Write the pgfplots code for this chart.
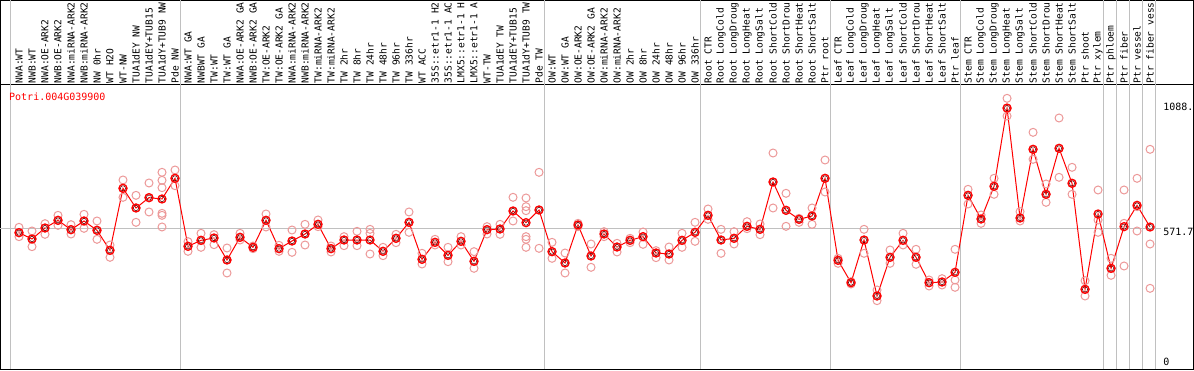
\documentclass[border=0pt]{standalone}
\usepackage{fontspec}
\usepackage{pgfplots}
\usepackage{pgfplotstable}
\pgfplotsset{compat=1.18}
\newfontfamily\mono{DejaVu Sans Mono}
\definecolor{gridgray}{RGB}{192,192,192}
\definecolor{repc}{RGB}{236,152,152}

\pgfplotstableread{
x y
0 552.0
1 524.7
2 572.0
3 605.0
4 564.9
5 602.2
6 562.0
7 476.0
8 742.7
9 658.1
10 702.5
11 696.8
12 785.7
13 493.2
14 519.0
15 529.0
16 434.4
17 531.9
18 488.9
19 605.0
20 483.2
21 516.1
22 546.2
23 587.8
24 483.2
25 520.4
26 520.4
27 520.4
28 471.7
29 527.6
30 596.4
31 437.3
32 510.4
33 454.5
34 514.7
35 428.7
36 564.9
37 567.7
38 645.2
39 595.0
40 649.5
41 470.3
42 421.5
43 585.0
44 451.6
45 546.2
46 490.3
47 519.0
48 534.8
49 464.5
50 460.2
51 519.0
52 553.4
53 626.5
54 520.4
55 527.6
56 579.2
57 566.3
58 769.9
59 648.0
60 609.3
61 623.7
62 785.7
63 433.0
64 336.9
65 520.4
66 279.6
67 445.9
68 519.0
69 445.9
70 336.9
71 339.8
72 381.4
73 712.5
74 610.8
75 751.3
76 1088.0
77 615.1
78 910.4
79 716.9
80 914.7
81 764.2
82 308.2
83 632.3
84 398.6
85 577.8
86 669.5
87 576.3
}\means

\pgfplotstableread{
x y
0 574.9
0 552.0
0 534.8
1 559.1
1 524.7
1 491.8
2 590.7
2 572.0
2 544.8
3 626.5
3 605.0
3 583.5
4 586.4
4 564.9
4 546.2
5 630.8
5 602.2
5 570.6
6 602.2
6 562.0
6 523.3
7 498.9
7 476.0
7 445.9
8 778.5
8 742.7
8 704.0
9 712.5
9 658.1
9 596.4
10 765.6
10 702.5
10 640.9
11 811.5
11 777.1
11 745.5
11 635.1
11 626.5
11 576.4
12 821.5
12 785.7
12 754.1
13 513.3
13 493.2
13 471.7
14 549.1
14 519.0
14 488.9
15 543.4
15 529.0
15 500.4
16 486.0
16 434.4
16 378.5
17 549.1
17 531.9
17 520.4
18 494.6
18 488.9
18 483.2
19 632.3
19 605.0
19 576.4
20 497.5
20 483.2
20 471.7
21 563.4
21 516.1
21 467.4
22 587.8
22 546.2
22 498.9
23 606.5
23 587.8
23 577.8
24 494.6
24 483.2
24 468.9
25 534.8
25 520.4
25 496.1
26 557.7
26 520.4
26 496.1
27 566.3
27 549.1
27 460.2
28 488.9
28 471.7
28 453.1
29 544.8
29 527.6
29 509.0
30 640.9
30 596.4
30 553.4
31 463.1
31 437.3
31 417.2
32 523.3
32 510.4
32 498.9
33 488.9
33 454.5
33 427.2
34 534.8
34 514.7
34 498.9
35 470.3
35 428.7
35 398.6
36 577.8
36 564.9
36 546.2
37 587.8
37 567.7
37 544.8
38 704.0
38 645.2
38 602.2
39 701.1
39 663.8
39 646.6
39 534.8
39 523.3
39 488.9
40 811.5
40 649.5
40 484.6
41 510.4
41 470.3
41 441.6
42 464.5
42 421.5
42 378.5
43 592.1
43 585.0
43 577.8
44 503.2
44 451.6
44 402.9
45 556.3
45 546.2
45 534.8
46 506.1
46 490.3
46 468.9
47 527.6
47 519.0
47 509.0
48 554.9
48 534.8
48 501.8
49 474.6
49 464.5
49 444.5
50 490.3
50 460.2
50 434.4
51 549.1
51 519.0
51 488.9
52 596.4
52 553.4
52 514.7
53 653.8
53 626.5
53 609.3
54 566.3
54 520.4
54 463.1
55 556.3
55 527.6
55 503.2
56 599.3
56 579.2
56 569.2
57 589.3
57 566.3
57 543.4
58 894.6
58 769.9
58 658.1
59 721.2
59 648.0
59 579.2
60 613.6
60 609.3
60 596.4
61 658.1
61 623.7
61 587.8
62 864.5
62 785.7
62 726.9
63 441.6
63 433.0
63 420.1
64 341.2
64 336.9
64 331.2
65 566.3
65 520.4
65 463.1
66 305.4
66 279.6
66 259.5
67 477.4
67 445.9
67 420.1
68 549.1
68 519.0
68 498.9
69 480.3
69 445.9
69 415.8
70 348.4
70 336.9
70 322.6
71 354.1
71 339.8
71 326.9
72 480.3
72 348.4
72 316.9
73 738.4
73 712.5
73 675.3
74 628.0
74 610.8
74 592.1
75 785.7
75 751.3
75 716.9
76 1129.8
76 1086.7
76 1053.8
77 642.3
77 615.1
77 602.2
78 983.5
78 910.4
78 867.4
79 761.3
79 716.9
79 682.4
80 1045.2
80 914.7
80 790.0
81 833.0
81 764.2
81 716.9
82 345.5
82 308.2
82 279.6
83 735.5
83 606.5
83 553.4
84 441.6
84 398.6
84 368.5
85 735.5
85 592.1
85 408.6
86 785.7
86 663.8
86 559.1
87 910.4
87 503.2
87 312.5
}\reps

\begin{document}
\begin{tikzpicture}
\useasboundingbox (0pt,0pt) rectangle (1194pt,370pt);
\clip (0pt,0pt) rectangle (1194pt,370pt);
\pgfplotsset{
  common/.style={
    scale only axis, width=1193pt,
    xmin=-1.423, xmax=90.346,
    axis line style={black, line width=1pt},
    major tick length=0pt,
    major grid style={gridgray, line width=1pt},
    ytick=\empty,
  }
}
% plot area
\begin{axis}[common,
  at={(0.5pt,0.5pt)}, anchor=south west,
  height=284.5pt,
  ymin=-36.6, ymax=1187.1,
  xtick={-0.65,12.385,40.385,52.385,62.385,72.385,83.385,84.385,85.385,86.385,87.385},
  xticklabels={},
  xmajorgrids,
  clip=false,
]
\draw[gridgray, line width=1pt] (axis cs:-1.423,571.7) -- (axis cs:87.85,571.7);
\addplot[only marks, mark=o, mark size=4pt, mark options={draw=repc, line width=1pt}] table[x=x, y=y] {\reps};
\addplot[red, line width=1pt, mark=o, mark size=4pt, mark options={draw=red, line width=1.3pt}] table[x=x, y=y] {\means};
\addplot[only marks, mark=o, mark size=2.6pt, mark options={draw=black!65!red, line width=0.5pt}] table[x=x, y=y] {\means};
\node[anchor=west, inner sep=0pt, text=red, font=\mono\fontsize{10pt}{10pt}\selectfont] at (axis cs:-0.77,1135.5) {Potri.004G039900};
\node[anchor=west, inner sep=0pt, font=\mono\fontsize{10pt}{10pt}\selectfont] at (axis cs:88.0,1091.6) {1088.};
\node[anchor=west, inner sep=0pt, font=\mono\fontsize{10pt}{10pt}\selectfont] at (axis cs:88.0,554.8) {571.7};
\node[anchor=west, inner sep=0pt, font=\mono\fontsize{10pt}{10pt}\selectfont] at (axis cs:88.0,-3) {0};
\end{axis}
% label strip
\begin{axis}[common,
  at={(0.5pt,285pt)}, anchor=south west,
  height=84.5pt,
  ymin=0, ymax=1,
  xtick={0,...,87},
  xticklabels={NWA:WT,NWB:WT,NWA:OE-ARK2,NWB:OE-ARK2,NWA:miRNA-ARK2,NWB:miRNA-ARK2,NW 0hr,WT H2O,WT-NW,TUA1dEY NW,TUA1dEY+TUB15,TUA1dY+TUB9 NW,Pde NW,
    NWA:WT GA,NWBWT GA,TW:WT,TW:WT GA,NWA:OE-ARK2 GA,NWB:OE-ARK2 GA,TW:OE-ARK2,TW:OE-ARK2 GA,NWA:miRNA-ARK2,NWB:miRNA-ARK2,TW:miRNA-ARK2,TW:miRNA-ARK2,TW 2hr,TW 8hr,TW 24hr,TW 48hr,TW 96hr,TW 336hr,WT ACC,35S::etr1-1 H2,35S::etr1-1 AC,LMX5::etr1-1 H,LMX5::etr1-1 A,WT-TW,TUA1dEY TW,TUA1dEY+TUB15,TUA1dY+TUB9 TW,Pde TW,
    OW:WT,OW:WT GA,OW:OE-ARK2,OW:OE-ARK2 GA,OW:miRNA-ARK2,OW:miRNA-ARK2,OW 2hr,OW 8hr,OW 24hr,OW 48hr,OW 96hr,OW 336hr,
    Root CTR,Root LongCold,Root LongDroug,Root LongHeat,Root LongSalt,Root ShortCold,Root ShortDrou,Root ShortHeat,Root ShortSalt,Ptr root,
    Leaf CTR,Leaf LongCold,Leaf LongDroug,Leaf LongHeat,Leaf LongSalt,Leaf ShortCold,Leaf ShortDrou,Leaf ShortHeat,Leaf ShortSalt,Ptr leaf,
    Stem CTR,Stem LongCold,Stem LongDroug,Stem LongHeat,Stem LongSalt,Stem ShortCold,Stem ShortDrou,Stem ShortHeat,Stem ShortSalt,Ptr shoot,Ptr xylem,
    Ptr phloem,Ptr fiber,Ptr vessel,Ptr fiber vess},
  xticklabel style={font=\mono\fontsize{9.6pt}{9.6pt}\selectfont, rotate=90, anchor=west, inner xsep=1.5pt, inner ysep=0pt},
  extra x ticks={-0.65,12.385,40.385,52.385,62.385,72.385,83.385,84.385,85.385,86.385,87.385},
  extra x tick labels={},
  extra x tick style={grid=major},
]
\end{axis}
\end{tikzpicture}
\end{document}
